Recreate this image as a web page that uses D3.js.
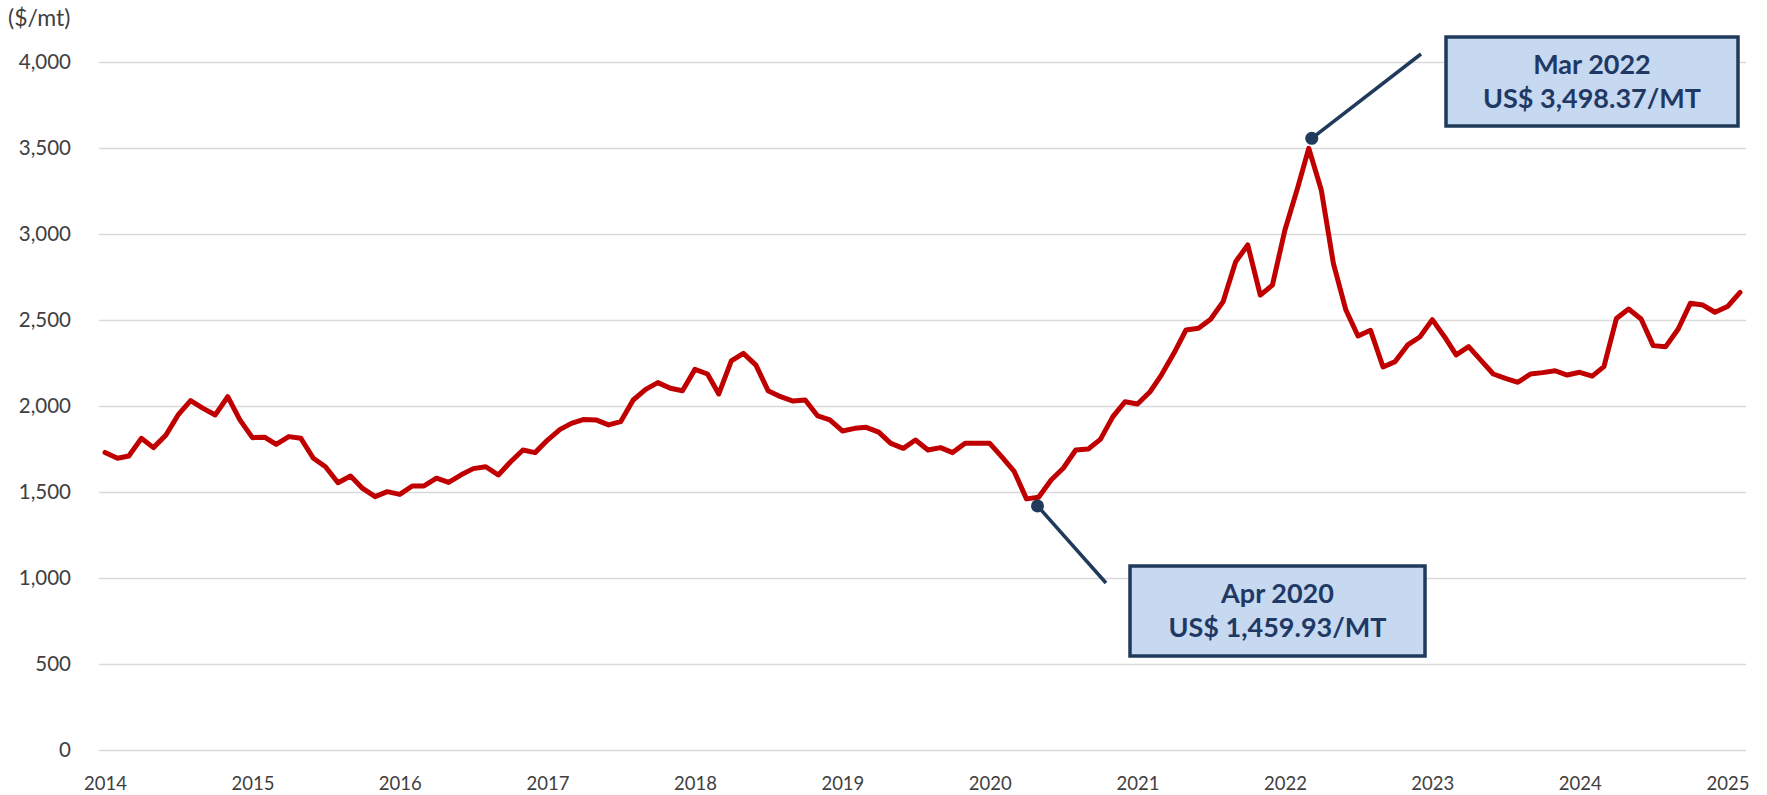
<!DOCTYPE html>
<html>
<head>
<meta charset="utf-8">
<script src="https://cdn.jsdelivr.net/npm/d3@7"></script>
<style>
  body { margin: 0; background: #fff; }
  .axis text { font-family: Lato, "Open Sans", sans-serif; font-size: 18.5px; fill: #404040; }
  .yaxis text { font-size: 20.5px; }
  .anno text { font-family: Lato, "Open Sans", sans-serif; font-weight: bold; font-size: 27px; fill: #1F3864; }
</style>
</head>
<body>
<div id="chart"></div>
<script>
// monthly price, $/mt, Jan 2014 - Feb 2025
const p2014 = [1730, 1696, 1709, 1812, 1758, 1831, 1948, 2031, 1986, 1948, 2054, 1919];
const p2015 = [1816, 1818, 1777, 1822, 1812, 1696, 1647, 1554, 1593, 1521, 1473, 1502];
const p2016 = [1486, 1535, 1535, 1580, 1556, 1600, 1636, 1647, 1599, 1674, 1744, 1729];
const p2017 = [1802, 1864, 1899, 1922, 1919, 1890, 1909, 2035, 2097, 2136, 2103, 2089];
const p2018 = [2213, 2186, 2070, 2262, 2306, 2238, 2089, 2054, 2029, 2035, 1942, 1919];
const p2019 = [1855, 1870, 1876, 1848, 1783, 1754, 1802, 1744, 1758, 1729, 1783, 1783];
const p2020 = [1783, 1701, 1622, 1460, 1470, 1570, 1638, 1744, 1750, 1806, 1938, 2025];
const p2021 = [2012, 2083, 2180, 2306, 2442, 2452, 2504, 2607, 2839, 2936, 2645, 2703];
const p2022 = [3023, 3265, 3498, 3256, 2829, 2558, 2407, 2440, 2227, 2258, 2355, 2401];
const p2023 = [2502, 2400, 2297, 2345, 2267, 2186, 2161, 2138, 2186, 2194, 2205, 2180];
const p2024 = [2196, 2174, 2229, 2509, 2564, 2506, 2351, 2345, 2448, 2597, 2587, 2545];
const p2025 = [2578, 2661];

const years = [2014, 2015, 2016, 2017, 2018, 2019, 2020, 2021, 2022, 2023, 2024, 2025];
const yTicks = [0, 500, 1000, 1500, 2000, 2500, 3000, 3500, 4000];
const unitLabel = "($/mt)";

const annoMonths = ["2022-03", "2020-04"];
const annoTitles = ["Mar 2022", "Apr 2020"];
const annoValues = ["US$ 3,498.37/MT", "US$ 1,459.93/MT"];

const yearly = [p2014, p2015, p2016, p2017, p2018, p2019, p2020, p2021, p2022, p2023, p2024, p2025];
const data = [];
yearly.forEach((arr, yi) => {
  arr.forEach((v, m) => data.push({ date: new Date(years[yi], m, 1), value: v }));
});

const W = 1767, H = 795;
const plotL = 99, plotR = 1746, plotT = 62, plotB = 750;

const svg = d3.select("#chart").append("svg")
  .attr("width", W).attr("height", H);

const x = d3.scaleTime()
  .domain([new Date(2014, 0, 1), new Date(2025, 0, 1)])
  .range([105, 1727.5]);

const y = d3.scaleLinear()
  .domain([0, 4000])
  .range([plotB, plotT]);

// gridlines + y labels
const yAxis = svg.append("g")
  .attr("class", "axis yaxis")
  .attr("transform", `translate(${plotL},0)`)
  .call(d3.axisLeft(y).tickValues(yTicks).tickFormat(d3.format(",")).tickSize(-(plotR - plotL)).tickPadding(28));
yAxis.select(".domain").remove();
yAxis.selectAll("line").attr("stroke", "#D9D9D9").attr("stroke-width", 1.5);

const xAxis = svg.append("g")
  .attr("class", "axis")
  .attr("transform", `translate(0,${plotB})`)
  .call(d3.axisBottom(x).tickValues(years.map(yr => new Date(yr, 0, 1))).tickFormat(d3.timeFormat("%Y")).tickSize(0).tickPadding(27));
xAxis.select(".domain").remove();

svg.append("text")
  .attr("x", 8).attr("y", 26)
  .style("font-family", "Lato, 'Open Sans', sans-serif")
  .style("font-size", "23px")
  .style("fill", "#404040")
  .text(unitLabel);

const line = d3.line()
  .x(d => x(d.date))
  .y(d => y(d.value));

svg.append("path")
  .datum(data)
  .attr("fill", "none")
  .attr("stroke", "#C00000")
  .attr("stroke-width", 5)
  .attr("stroke-linejoin", "round")
  .attr("stroke-linecap", "round")
  .attr("d", line);

// annotations
const parseM = d3.timeParse("%Y-%m");
const boxes = [
  { x0: 1446, y0: 37, w: 292, h: 89, dx: 3, dy: -10, lx: 1421, ly: 54 },
  { x0: 1130, y0: 566, w: 295, h: 90, dx: 11, dy: 7, lx: 1106, ly: 583 }
];

const anno = svg.append("g").attr("class", "anno");
annoMonths.forEach((m, i) => {
  const pt = data.find(d => +d.date === +parseM(m));
  const b = boxes[i];
  const cx = x(pt.date) + b.dx, cy = y(pt.value) + b.dy;
  anno.append("line")
    .attr("x1", cx).attr("y1", cy).attr("x2", b.lx).attr("y2", b.ly)
    .attr("stroke", "#1F3A5A").attr("stroke-width", 3.5);
  anno.append("circle")
    .attr("cx", cx).attr("cy", cy).attr("r", 6.5)
    .attr("fill", "#1F3A5A");
  anno.append("rect")
    .attr("x", b.x0).attr("y", b.y0).attr("width", b.w).attr("height", b.h)
    .attr("fill", "#C6D9F0").attr("stroke", "#1F3A5A").attr("stroke-width", 3.5);
  anno.append("text")
    .attr("x", b.x0 + b.w / 2).attr("y", b.y0 + 37)
    .attr("text-anchor", "middle")
    .text(annoTitles[i]);
  anno.append("text")
    .attr("x", b.x0 + b.w / 2).attr("y", b.y0 + 71)
    .attr("text-anchor", "middle")
    .text(annoValues[i]);
});
</script>
</body>
</html>
